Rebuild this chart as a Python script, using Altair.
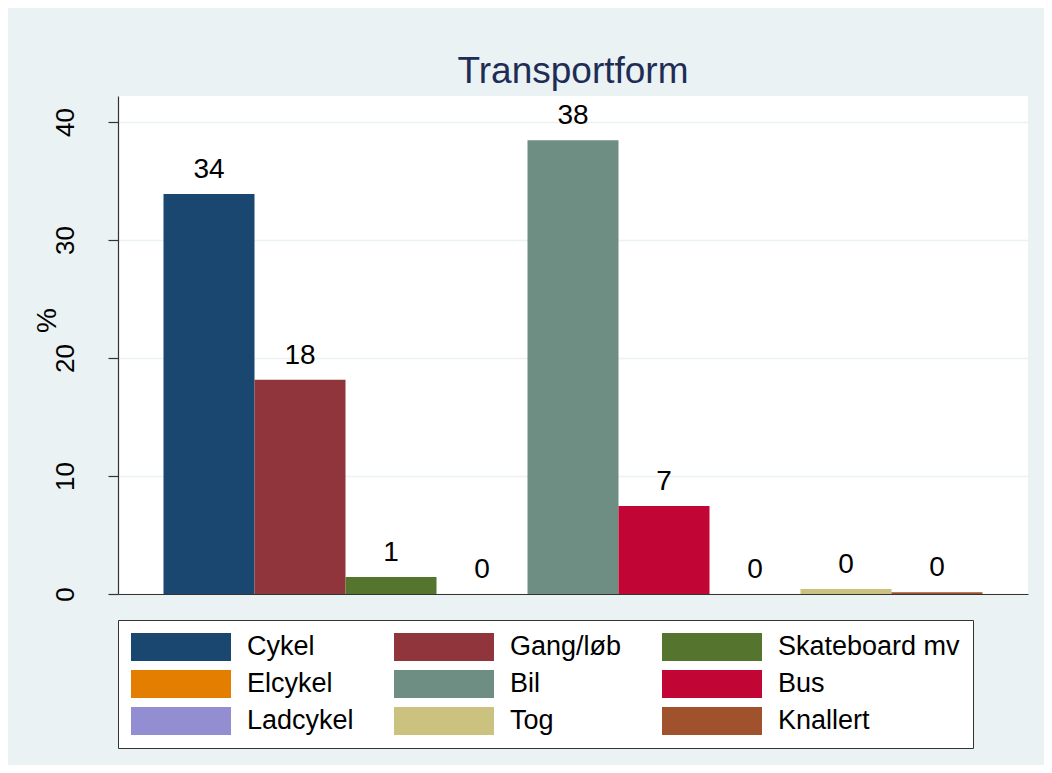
import altair as alt
import pandas as pd

categories = ["Cykel", "Gang/løb", "Skateboard mv", "Elcykel", "Bil", "Bus", "Ladcykel", "Tog", "Knallert"]
values = [33.9, 18.15, 1.45, 0.0, 38.45, 7.45, 0.0, 0.42, 0.15]
colors = ["#1a476f", "#90353b", "#55752f", "#e37e00", "#6e8e84", "#c10534", "#938dd2", "#cac27e", "#a0522d"]
y_ticks = [0, 10, 20, 30, 40]

FONT = "Liberation Sans"
df = pd.DataFrame({"form": categories, "pct": values})

x_enc = alt.X(
    "form:N", sort=categories,
    scale=alt.Scale(paddingInner=0, paddingOuter=0.5),
    axis=alt.Axis(labels=False, ticks=False, title=None, domain=True,
                  domainColor="#333333", domainWidth=1.2, grid=False),
)
y_scale = alt.Scale(domain=[0, 42.2], nice=False, zero=True)

bars = alt.Chart(df).mark_bar(stroke=None).encode(
    x=x_enc,
    y=alt.Y("pct:Q", scale=y_scale, axis=alt.Axis(
        values=y_ticks, title="%", titleAngle=270, titleX=-71, titleY=224,
        titleAlign="center", titleBaseline="middle", titleFont=FONT,
        titleFontSize=28, titleFontWeight="normal", titleColor="black",
        labelAngle=270, labelAlign="center", labelBaseline="bottom",
        labelPadding=30, labelFont=FONT, labelFontSize=26, labelColor="black",
        tickSize=10, tickColor="#333333", tickWidth=1.2,
        domainColor="#333333", domainWidth=1.2,
        grid=True, gridColor="#EAF2F3", gridWidth=1.5,
    )),
    color=alt.Color("form:N", scale=alt.Scale(domain=categories, range=colors),
                    legend=alt.Legend(
                        title=None, orient="none", legendX=0, legendY=524,
                        columns=3, direction="horizontal",
                        symbolType="M-1,-1L6.143,-1L6.143,1L-1,1Z",
                        symbolSize=784, symbolStrokeWidth=0, symbolOpacity=1,
                        labelFont=FONT, labelFontSize=27, labelColor="black",
                        labelOffset=88, labelLimit=400,
                        rowPadding=9, columnPadding=40, padding=13,
                        strokeColor="#333333", fillColor="white",
                    )),
)

labels = alt.Chart(df).mark_text(
    font=FONT, fontSize=28, color="black", baseline="alphabetic", dy=-16
).encode(
    x=alt.X("form:N", sort=categories),
    y=alt.Y("pct:Q", scale=y_scale),
    text=alt.Text("pct:Q", format=".0f"),
)

chart = alt.layer(bars, labels).properties(
    width=910, height=498,
    title=alt.TitleParams(
        "Transportform", font=FONT, fontSize=37, fontWeight="normal",
        color="#1f2d56", anchor="middle", frame="group",
        baseline="alphabetic", offset=11, dy=35,
    ),
    autosize=alt.AutoSizeParams(type="none"),
    padding={"left": 110, "top": 88, "right": 16, "bottom": 171},
    background="#EAF2F3",
).configure_view(stroke=None, fill="white")

chart.save("out.html", embed_options={"renderer": "svg", "actions": False})
